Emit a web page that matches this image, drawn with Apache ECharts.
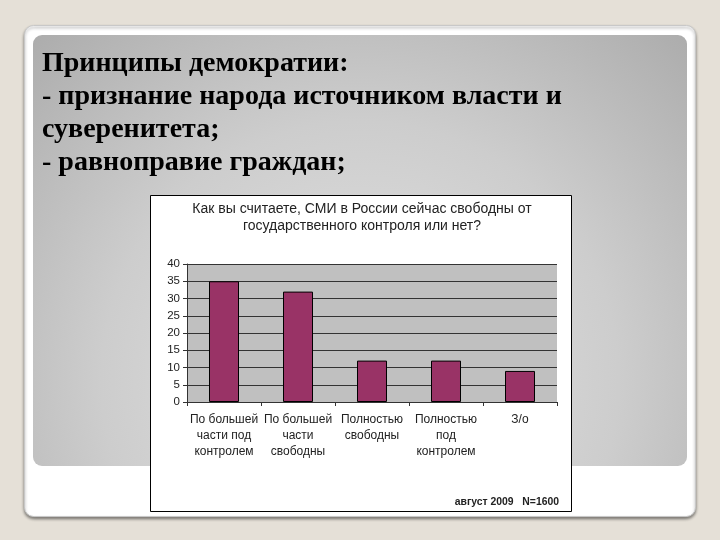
<!DOCTYPE html>
<html><head><meta charset="utf-8">
<script src="https://cdn.jsdelivr.net/npm/echarts@6/dist/echarts.min.js"></script>
<style>html,body{margin:0;padding:0;background:#e5e0d7;}#c{width:720px;height:540px;}</style>
</head><body><div id="c"></div>
<script>
const slideLines = ['Принципы демократии:', '- признание народа источником власти и', 'суверенитета;', '- равноправие граждан;'];
const chartTitle = ['Как вы считаете, СМИ в России сейчас свободны от', 'государственного контроля или нет?'];
const categories = ['По большей\nчасти под\nконтролем', 'По большей\nчасти\nсвободны', 'Полностью\nсвободны', 'Полностью\nпод\nконтролем', 'З/о'];
const values = [35, 32, 12, 12, 9];
const footnote = 'август 2009   N=1600';
const yMin = 0, yMax = 40, yStep = 5;

const chart = echarts.init(document.getElementById('c'));
const graphics = [
  {type:'rect', z:-100, shape:{x:0,y:0,width:720,height:540}, style:{fill:'#e5e0d7'}},
  {type:'rect', z:-99, shape:{x:24.5,y:25.5,width:671,height:491,r:9}, style:{fill:'#ffffff', stroke:'#c8c8c8', lineWidth:1, shadowBlur:3, shadowOffsetY:2, shadowColor:'rgba(0,0,0,0.45)'}},
  {type:'rect', z:-98, shape:{x:33,y:35,width:654,height:431,r:9}, style:{fill:{type:'radial', x:0.5, y:0.8, r:1.2, colorStops:[{offset:0,color:'#e4e4e4'},{offset:0.5,color:'#cdcdcd'},{offset:1,color:'#a6a6a6'}]}}},
  {type:'rect', z:-97, shape:{x:150.5,y:195.5,width:421,height:316}, style:{fill:'#ffffff', stroke:'#000', lineWidth:1}}
];
slideLines.forEach((t,i)=>graphics.push({type:'text', z:-90, style:{text:t, x:42, y:64+33*i, textVerticalAlign:'middle', font:'bold 28px "Liberation Serif", "Times New Roman", serif', fill:'#000'}}));
chartTitle.forEach((t,i)=>graphics.push({type:'text', z:-90, style:{text:t, x:362, y:209+17*i, textAlign:'center', textVerticalAlign:'middle', font:'14px "Liberation Sans", Arial, sans-serif', fill:'#222'}}));
graphics.push({type:'text', z:-90, style:{text:footnote, x:559, y:502, textAlign:'right', textVerticalAlign:'middle', font:'bold 10.4px "Liberation Sans", Arial, sans-serif', fill:'#222'}});

chart.setOption({
  animation:false,
  graphic: graphics,
  grid:{left:187, top:264, width:370, height:138, show:true, backgroundColor:'#c0c0c0', borderWidth:0},
  xAxis:{type:'category', data:categories,
    axisLine:{lineStyle:{color:'#333', width:1}},
    axisTick:{show:true, length:4, lineStyle:{color:'#333'}},
    axisLabel:{interval:0, margin:10, fontSize:12, lineHeight:16, color:'#222', fontFamily:'"Liberation Sans", Arial, sans-serif'}},
  yAxis:{type:'value', min:yMin, max:yMax, interval:yStep,
    axisLine:{show:true, lineStyle:{color:'#333'}},
    axisTick:{show:true, length:4, lineStyle:{color:'#333'}},
    splitLine:{lineStyle:{color:'#333', width:1}},
    axisLabel:{margin:7, fontSize:11.5, color:'#222', fontFamily:'"Liberation Sans", Arial, sans-serif'}},
  series:[{type:'bar', data:values, barWidth:30, itemStyle:{color:'#993366', borderColor:'#000', borderWidth:1}}]
});
</script></body></html>
